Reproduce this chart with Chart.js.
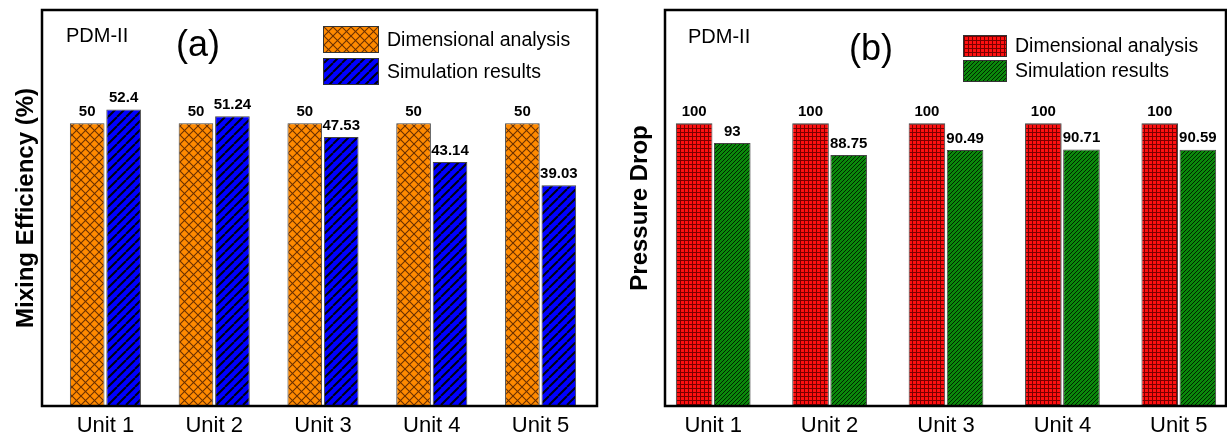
<!DOCTYPE html>
<html>
<head>
<meta charset="utf-8">
<script src="https://cdn.jsdelivr.net/npm/chart.js@4.4.1/dist/chart.umd.min.js"></script>
<style>
  html, body { margin: 0; padding: 0; background: #fff; overflow: hidden; }
  #wrap { position: relative; width: 1227px; height: 440px; overflow: hidden; }
  #chartA { position: absolute; left: 0; top: 0; }
  #chartB { position: absolute; left: 600px; top: 0; }
</style>
</head>
<body>
<div id="wrap">
  <canvas id="chartA" width="600" height="440"></canvas>
  <canvas id="chartB" width="645" height="440"></canvas>
</div>
<script>
// data
const categories = ['Unit 1', 'Unit 2', 'Unit 3', 'Unit 4', 'Unit 5'];
const seriesLabels = ['Dimensional analysis', 'Simulation results'];
const mixDimensional = [50, 50, 50, 50, 50];
const mixSimulation = [52.4, 51.24, 47.53, 43.14, 39.03];
const pressureDimensional = [100, 100, 100, 100, 100];
const pressureSimulation = [93, 88.75, 90.49, 90.71, 90.59];

const FONT = "'Liberation Sans', Arial, sans-serif";

// build a repeating fill from a small tile
function makePattern(ctx, size, bg, draw) {
    const tile = document.createElement('canvas');
    tile.width = size;
    tile.height = size;
    const g = tile.getContext('2d');
    g.fillStyle = bg;
    g.fillRect(0, 0, size, size);
    draw(g, size);
    return ctx.createPattern(tile, 'repeat');
}

function slash(g, s, color, w) {
    g.strokeStyle = color;
    g.lineWidth = w;
    g.beginPath();
    for (let k = -1; k <= 1; k++) {
        g.moveTo(k * s, s);
        g.lineTo(k * s + s, 0);
    }
    g.stroke();
}

function backslash(g, s, color, w) {
    g.strokeStyle = color;
    g.lineWidth = w;
    g.beginPath();
    for (let k = -1; k <= 1; k++) {
        g.moveTo(k * s, 0);
        g.lineTo(k * s + s, s);
    }
    g.stroke();
}

const ctxA = document.getElementById('chartA').getContext('2d');
const ctxB = document.getElementById('chartB').getContext('2d');

const orangeHatch = makePattern(ctxA, 9, '#ff8a00', (g, s) => {
    slash(g, s, '#6a3000', 1.1);
    backslash(g, s, '#6a3000', 1.1);
});
const blueHatch = makePattern(ctxA, 9, '#0000ff', (g, s) => slash(g, s, '#000010', 2));
const redGrid = makePattern(ctxB, 4, '#ff1010', (g, s) => {
    g.fillStyle = '#7a0000';
    g.fillRect(0, 0, s, 1);
    g.fillRect(0, 0, 1, s);
});
const greenHatch = makePattern(ctxB, 4, '#0b880b', (g, s) => slash(g, s, '#002400', 1));

// frame, value labels, panel texts and legend
function panelDecor(p) {
    return {
        id: 'panelDecor',
        beforeDraw(chart) {
            const c = chart.ctx;
            c.save();
            c.fillStyle = '#fff';
            c.fillRect(0, 0, chart.width, chart.height);
            c.restore();
        },
        afterDatasetsDraw(chart) {
            const c = chart.ctx;
            c.save();
            c.font = 'bold 15px ' + FONT;
            c.fillStyle = '#000';
            c.textAlign = 'center';
            c.textBaseline = 'bottom';
            chart.data.datasets.forEach((ds, i) => {
                chart.getDatasetMeta(i).data.forEach((bar, j) => {
                    c.fillText(String(ds.data[j]), bar.x, bar.y - 4);
                });
            });
            c.restore();
        },
        afterDraw(chart) {
            const c = chart.ctx;
            const area = chart.chartArea;
            c.save();
            // plot frame
            c.strokeStyle = '#000';
            c.lineWidth = 2.5;
            c.strokeRect(p.frameLeft, area.top, p.frameRight - p.frameLeft, area.bottom - area.top);

            c.fillStyle = '#000';
            c.textBaseline = 'middle';
            c.textAlign = 'left';
            c.font = '20px ' + FONT;
            c.fillText('PDM-II', p.tagX, p.tagY);
            c.textAlign = 'center';
            c.font = '36px ' + FONT;
            c.fillText(p.letter, p.letterX, p.letterY);

            // legend
            chart.data.datasets.forEach((ds, i) => {
                const y = p.legY + i * p.legStep;
                c.fillStyle = ds.backgroundColor;
                c.fillRect(p.legX, y, p.boxW, p.boxH);
                c.strokeStyle = '#333';
                c.lineWidth = 1;
                c.strokeRect(p.legX + 0.5, y + 0.5, p.boxW - 1, p.boxH - 1);
                c.fillStyle = '#000';
                c.textAlign = 'left';
                c.font = '19.5px ' + FONT;
                c.fillText(ds.label, p.legX + p.boxW + 8, y + p.boxH / 2 + 1);
            });
            c.restore();
        }
    };
}

function makeChart(ctx, dims, sims, fills, yMax, yTitle, yTitlePad, yWidth, padRight, cat, decor) {
    return new Chart(ctx, {
        type: 'bar',
        data: {
            labels: categories,
            datasets: [{
                label: seriesLabels[0],
                data: dims,
                backgroundColor: fills[0],
                borderColor: '#444',
                borderWidth: 1,
                categoryPercentage: cat[0],
                barPercentage: cat[1]
            }, {
                label: seriesLabels[1],
                data: sims,
                backgroundColor: fills[1],
                borderColor: '#444',
                borderWidth: 1,
                categoryPercentage: cat[0],
                barPercentage: cat[1]
            }]
        },
        options: {
            responsive: false,
            animation: false,
            devicePixelRatio: 1,
            layout: { padding: { top: 10, right: padRight, left: 0, bottom: 0 } },
            scales: {
                x: {
                    grid: { display: false, drawTicks: false },
                    border: { display: false },
                    ticks: { color: '#000', padding: 7, font: { family: FONT, size: 22 } },
                    afterFit: (s) => { s.height = 34; }
                },
                y: {
                    min: 0,
                    max: yMax,
                    grid: { display: false, drawTicks: false },
                    border: { display: false },
                    ticks: { display: false },
                    title: {
                        display: true,
                        text: yTitle,
                        color: '#000',
                        padding: { top: yTitlePad, bottom: 0 },
                        font: { family: FONT, size: 24, weight: 'bold' }
                    },
                    afterFit: (s) => { s.width = yWidth; }
                }
            },
            plugins: {
                legend: { display: false },
                tooltip: { enabled: false }
            }
        },
        plugins: [decor]
    });
}

makeChart(ctxA, mixDimensional, mixSimulation, [orangeHatch, blueHatch], 70,
    'Mixing Efficiency (%)', 12, 51, 5, [0.67, 0.95],
    panelDecor({
        frameLeft: 42, frameRight: 597,
        tagX: 66, tagY: 36, letter: '(a)', letterX: 198, letterY: 46,
        legX: 323, legY: 26, legStep: 32, boxW: 56, boxH: 27
    }));

makeChart(ctxB, pressureDimensional, pressureSimulation, [redGrid, greenHatch], 140,
    'Pressure Drop', 26, 55, 8, [0.655, 0.96],
    panelDecor({
        frameLeft: 65, frameRight: 626,
        tagX: 88, tagY: 37, letter: '(b)', letterX: 271, letterY: 50,
        legX: 363, legY: 35, legStep: 25, boxW: 44, boxH: 22
    }));
</script>
</body>
</html>
